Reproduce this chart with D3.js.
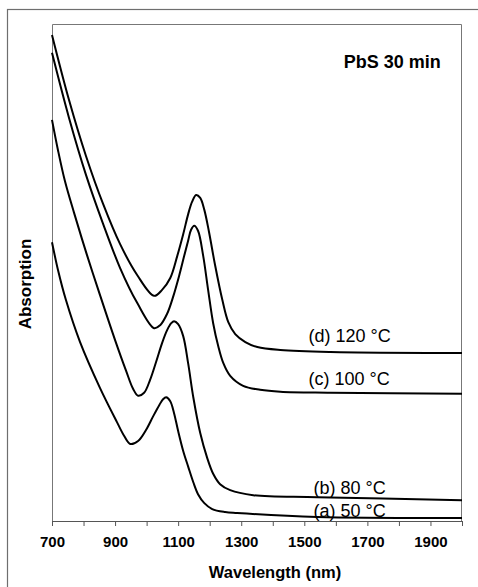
<!DOCTYPE html>
<html lang="en">
<head>
    <meta charset="UTF-8">
    <title>PbS 30 min</title>
    <script src="https://d3js.org/d3.v7.min.js"></script>
    <style>
        body {
            margin: 0;
            background: #ffffff;
        }

        svg text {
            font-family: "Liberation Sans", Arial, sans-serif;
            fill: #000000;
        }

        .curve {
            fill: none;
            stroke: #000000;
            stroke-width: 2;
        }

        .x-axis path,
        .x-axis line {
            stroke: #555555;
        }

        .x-axis text {
            font-size: 15px;
            font-weight: bold;
        }

        .bold-label {
            font-weight: bold;
        }
    </style>
</head>
<body>
    <div id="chart"></div>
    <script>
        // размеры области построения
        const W = 478, H = 587;
        const margin = { top: 24, right: 16, bottom: 66, left: 52 };
        const width = W - margin.left - margin.right;
        const height = H - margin.top - margin.bottom;

        // спектры поглощения (отн. ед.)
        const wlD = [700, 754, 808, 862, 916, 970, 1024, 1049, 1075, 1097, 1116, 1132, 1144, 1157, 1170, 1183, 1198, 1217, 1240, 1259, 1281, 1313, 1351, 1424, 1583, 2000];
        const absD = [97.8, 84.7, 73.4, 63.8, 55.7, 49.5, 45.3, 46.5, 48.9, 53.3, 57.7, 61.8, 64.2, 65.6, 65.0, 62.6, 58.1, 51.5, 44.5, 40.0, 37.6, 36.0, 35.0, 34.4, 34.0, 33.8];

        const wlC = [700, 754, 808, 862, 916, 970, 1024, 1043, 1065, 1084, 1103, 1119, 1132, 1141, 1151, 1163, 1179, 1195, 1211, 1227, 1243, 1265, 1306, 1360, 1424, 1583, 2000];
        const absC = [94.2, 81.1, 69.6, 59.8, 50.9, 43.9, 38.8, 39.4, 41.7, 45.1, 49.3, 53.3, 56.5, 58.6, 59.4, 58.4, 53.5, 46.5, 39.8, 35.2, 31.8, 29.2, 27.2, 26.4, 26.0, 25.8, 25.6];

        const wlB = [700, 719, 741, 770, 811, 852, 900, 935, 957, 973, 992, 1011, 1030, 1049, 1065, 1078, 1087, 1100, 1116, 1132, 1148, 1170, 1192, 1211, 1233, 1265, 1338, 1541, 2000];
        const absB = [80.7, 74.6, 68.4, 62.0, 53.5, 45.5, 36.4, 30.2, 26.6, 25.2, 25.8, 28.4, 32.0, 35.8, 38.4, 39.8, 40.2, 39.6, 37.2, 31.6, 24.9, 17.7, 12.7, 9.5, 7.4, 6.2, 5.2, 4.8, 4.2];

        const wlA = [700, 719, 744, 789, 852, 906, 929, 948, 973, 998, 1021, 1040, 1052, 1062, 1075, 1087, 1100, 1116, 1132, 1148, 1163, 1183, 1208, 1249, 1287, 1541, 2000];
        const absA = [56.1, 50.5, 44.5, 36.0, 26.8, 19.9, 17.1, 15.5, 16.1, 18.3, 21.1, 23.3, 24.5, 24.9, 24.1, 21.7, 18.1, 14.1, 10.9, 7.8, 5.4, 3.6, 2.4, 1.8, 1.6, 0.8, 0.6];

        // подписи кривых: текст и точка привязки (длина волны, поглощение)
        const curveLabels = ["(d) 120 °C", "(c) 100 °C", "(b) 80 °C", "(a) 50 °C"];
        const labelWl = [1513, 1513, 1529, 1529];
        const labelAbs = [36.0, 27.4, 5.5, 0.9];

        const xTicks = d3.range(700, 2001, 100);
        const xTickLabels = [700, 900, 1100, 1300, 1500, 1700, 1900];

        const series = [
            [wlA, absA],
            [wlB, absB],
            [wlC, absC],
            [wlD, absD]
        ].map(([wl, ab]) => wl.map((w, i) => ({ w: w, a: ab[i] })));

        const root = d3.select("#chart")
            .append("svg")
            .attr("width", W)
            .attr("height", H);

        // внешняя рамка
        root.append("rect")
            .attr("x", 7.5)
            .attr("y", 9.5)
            .attr("width", W + 10)
            .attr("height", H + 10)
            .attr("fill", "none")
            .attr("stroke", "#6e6e6e")
            .attr("stroke-width", 1.2);

        const svg = root.append("g")
            .attr("transform", `translate(${margin.left},${margin.top})`);

        const x = d3.scaleLinear()
            .domain([700, 2000])
            .range([0, width]);

        const y = d3.scaleLinear()
            .domain([0, 100])
            .range([height, 0]);

        // рамка области графика
        svg.append("path")
            .attr("d", `M0.5,${height}V0.5H${width - 0.5}V${height}`)
            .attr("fill", "none")
            .attr("stroke", "#777777")
            .attr("stroke-width", 1);

        const xAxis = d3.axisBottom(x)
            .tickValues(xTicks)
            .tickSizeInner(5)
            .tickSizeOuter(0)
            .tickPadding(10)
            .tickFormat(d => xTickLabels.includes(d) ? d : "");

        svg.append("g")
            .attr("class", "x-axis")
            .attr("transform", `translate(0,${height})`)
            .call(xAxis);

        const line = d3.line()
            .curve(d3.curveCatmullRom.alpha(0.5))
            .x(d => x(d.w))
            .y(d => y(d.a));

        svg.selectAll(".curve")
            .data(series)
            .join("path")
            .attr("class", "curve")
            .attr("d", line);

        svg.selectAll(".curve-label")
            .data(curveLabels)
            .join("text")
            .attr("class", "curve-label")
            .attr("x", (d, i) => x(labelWl[i]))
            .attr("y", (d, i) => y(labelAbs[i]))
            .attr("font-size", 18)
            .text(d => d);

        svg.append("text")
            .attr("class", "bold-label")
            .attr("x", x(1933))
            .attr("y", 44)
            .attr("text-anchor", "end")
            .attr("font-size", 18)
            .text("PbS 30 min");

        root.append("text")
            .attr("class", "bold-label")
            .attr("x", 275)
            .attr("y", 578)
            .attr("text-anchor", "middle")
            .attr("font-size", 16.5)
            .text("Wavelength (nm)");

        root.append("text")
            .attr("class", "bold-label")
            .attr("transform", "translate(31,284) rotate(-90)")
            .attr("text-anchor", "middle")
            .attr("font-size", 17)
            .text("Absorption");
    </script>
</body>
</html>
